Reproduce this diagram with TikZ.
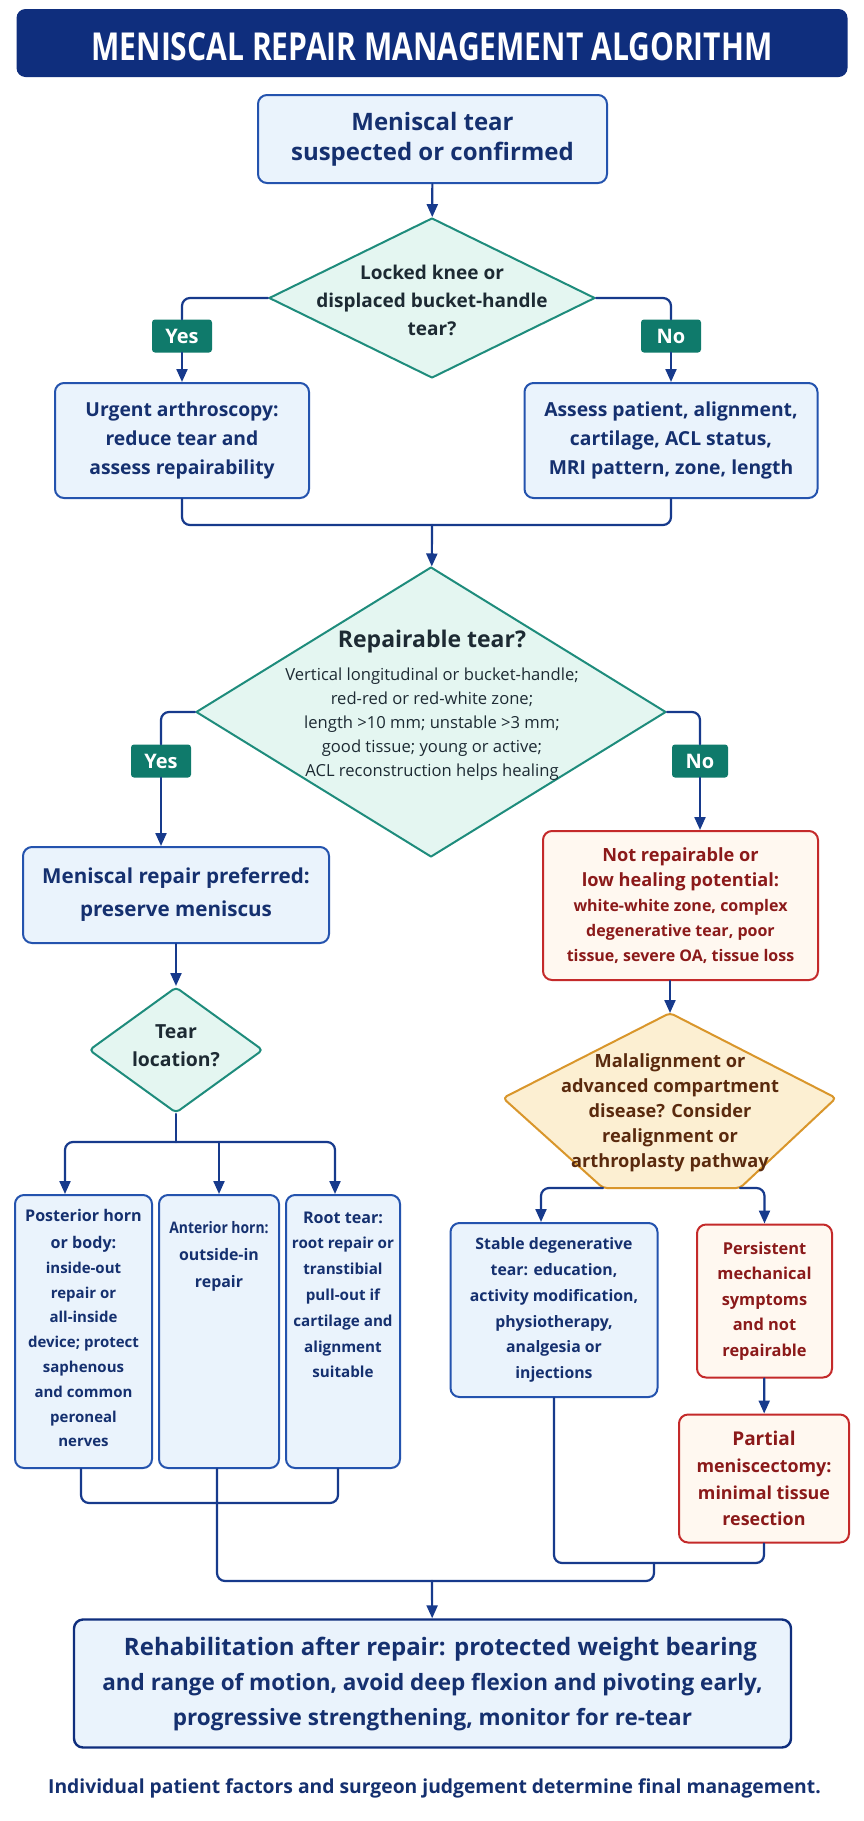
\documentclass[tikz,border=0pt]{standalone}
\usepackage{fontspec}
\usepackage{graphicx}
\usepackage{tikz}
\setmainfont{Open Sans}
\newfontfamily\titlefont{Open Sans}[FakeStretch=0.78]
\usetikzlibrary{shapes.geometric}
\usetikzlibrary{arrows.meta}
\definecolor{titlenavy}{HTML}{0F2E7D}
\definecolor{boxblue}{HTML}{2453AE}
\definecolor{boxfill}{HTML}{EAF3FC}
\definecolor{navytext}{HTML}{15306F}
\definecolor{tealline}{HTML}{1E8C7C}
\definecolor{tealfill}{HTML}{E4F6F1}
\definecolor{tealdark}{HTML}{0F7A6B}
\definecolor{slatetext}{HTML}{1D2A33}
\definecolor{redline}{HTML}{C42A2A}
\definecolor{redfill}{HTML}{FFF8F0}
\definecolor{redtext}{HTML}{8B1A1A}
\definecolor{orangeline}{HTML}{D9962B}
\definecolor{orangefill}{HTML}{FCEFD2}
\definecolor{browntext}{HTML}{5A2A0E}
\definecolor{linkblue}{HTML}{173A8C}
\newcommand{\fsz}[2]{\fontsize{#1}{#2}\selectfont}
\tikzstyle{bluebox}=[draw=boxblue,fill=boxfill,line width=2pt,rounded corners=9pt,text=navytext,align=center,inner sep=0pt]
\tikzstyle{redbox}=[draw=redline,fill=redfill,line width=2pt,rounded corners=9pt,text=redtext,align=center,inner sep=0pt]
\tikzstyle{decision}=[draw=tealline,fill=tealfill,line width=2pt,shape=diamond,inner sep=0pt]
\tikzstyle{dtext}=[text=slatetext,align=center]
\tikzstyle{yesno}=[fill=tealdark,text=white,rounded corners=3pt,minimum width=60pt,minimum height=33pt,inner sep=0pt,font=\fsz{20}{24}\bfseries]
\tikzstyle{conn}=[draw=linkblue,line width=2.2pt,rounded corners=8pt]

\begin{document}
\begin{tikzpicture}[line cap=round,line join=round,>={Triangle[length=13pt,width=11pt]},x=1pt,y=-1pt]
\useasboundingbox (0,0) rectangle (864,1821);
\fill[white] (0,0) rectangle (864,1821);
% title
\node[fill=titlenavy,rounded corners=9pt,minimum width=831pt,minimum height=68pt,text height=34pt,text depth=0pt,text=white,font=\titlefont\fsz{38.5}{40}\bfseries] (title) at (432,43) {MENISCAL REPAIR MANAGEMENT ALGORITHM};
% first question
\node[bluebox,minimum width=349pt,minimum height=88pt,font=\fsz{24}{30}\bfseries] (start) at (432.5,139) {Meniscal tear\\suspected or confirmed};
\node[decision,minimum width=326pt,minimum height=160pt] (lock) at (432,298) {};
\node[dtext,font=\fsz{19}{28}\bfseries] (locktext) at (432,300) {Locked knee or\\displaced bucket-handle\\tear?};
\node[bluebox,minimum width=254pt,minimum height=115pt,font=\fsz{19.3}{29}\bfseries] (urgent) at (182,440.5) {Urgent arthroscopy:\\reduce tear and\\assess repairability};
\node[bluebox,minimum width=293pt,minimum height=115pt,font=\fsz{19.3}{29}\bfseries] (assess) at (671,440.5) {Assess patient, alignment,\\cartilage, ACL status,\\MRI pattern, zone, length};
\node[yesno] (yes1) at (182,336) {Yes};
\node[yesno] (no1) at (671,336) {No};
\draw[conn,->] (start) -- (lock);
\draw[conn] (lock.west) -| (yes1);
\draw[conn,->] (yes1) -- (urgent);
\draw[conn] (lock.east) -| (no1);
\draw[conn,->] (no1) -- (assess);
% repairable?
\node[decision,minimum width=470pt,minimum height=290pt] (rep) at (431,712) {};
\node[dtext,font=\fsz{16.6}{24}] (reptext) at (432,705) {{\fsz{23}{28}\bfseries Repairable tear?}\\[8.5pt]
  Vertical longitudinal or bucket-handle;\\
  red-red or red-white zone;\\
  length >10 mm; unstable >3 mm;\\
  good tissue; young or active;\\
  ACL reconstruction helps healing};
\coordinate (join1) at (432,525);
\draw[conn] (urgent.south) |- (join1) -| (assess.south);
\draw[conn,->] (join1) -- (rep);
\node[yesno] (yes2) at (161,761) {Yes};
\node[yesno,minimum width=56pt] (no2) at (700,761) {No};
\node[bluebox,minimum width=306pt,minimum height=96pt,font=\fsz{20.6}{33}\bfseries] (repair) at (176,895) {Meniscal repair preferred:\\preserve meniscus};
\node[redbox,minimum width=275pt,minimum height=149pt,font=\fsz{16}{25}\bfseries] (notrep) at (680.5,905.5) {{\fsz{18.2}{25}Not repairable or}\\
  {\fsz{18.2}{25}low healing potential:}\\
  white-white zone, complex\\
  degenerative tear, poor\\
  tissue, severe OA, tissue loss};
\draw[conn] (rep.west) -| (yes2);
\draw[conn,->] (yes2) -- (yes2 |- repair.north);
\draw[conn] (rep.east) -| (no2);
\draw[conn,->] (no2) -- (no2 |- notrep.north);
% repair side
\node[decision,rounded corners=4pt,minimum width=174pt,minimum height=126pt] (loc) at (176,1050) {};
\node[dtext,font=\fsz{19.4}{28}\bfseries] (loctext) at (176,1046) {Tear\\location?};
\draw[conn,->] (repair) -- (loc);
\node[bluebox,minimum width=137pt,minimum height=273pt] (post) at (83.5,1331.5) {\parbox[c][270pt][t]{134pt}{\centering\vspace*{13pt}\fsz{15}{24.8}\bfseries {\fsz{16.1}{24.8}Posterior horn}\\[2pt]{\fsz{16.1}{24.8}or body:}\\inside-out\\repair or\\all-inside\\device; protect\\saphenous\\and common\\peroneal\\nerves}};
\node[bluebox,minimum width=120pt,minimum height=273pt] (ant) at (219,1331.5) {\parbox[c][270pt][t]{118pt}{\centering\vspace*{25pt}\fsz{15.9}{27}\bfseries \scalebox{0.875}[1]{Anterior horn:}\\outside-in\\repair}};
\node[bluebox,minimum width=114pt,minimum height=273pt] (root) at (343,1331.5) {\parbox[c][270pt][t]{112pt}{\centering\vspace*{15pt}\fsz{15.2}{25.8}\bfseries {\fsz{16.1}{25.8}Root tear:}\\root repair or\\transtibial\\pull-out if\\cartilage and\\alignment\\suitable}};
\coordinate (split) at (176,1142);
\draw[conn] (loc.south) -- (split);
\draw[conn,->] (split) -| ([xshift=-18.5pt]post.north);
\draw[conn,->] (ant.north |- split) -- (ant.north);
\draw[conn,->] (split) -| ([xshift=-8pt]root.north);
% not repairable side
\coordinate (maltop) at (670,1013);
\coordinate (malright) at (836,1098);
\coordinate (malbr) at (740,1188);
\coordinate (malbl) at (603,1188);
\coordinate (malleft) at (503,1098);
\draw[draw=orangeline,fill=orangefill,line width=2pt,rounded corners=4pt] (maltop) -- (malright) -- (malbr) -- (malbl) -- (malleft) -- cycle;
\node[text=browntext,align=center,font=\fsz{18.2}{25}\bfseries] (mal) at (670,1113) {Malalignment or\\advanced compartment\\disease? Consider\\realignment or\\arthroplasty pathway};
\draw[conn,->] ([xshift=-10.5pt]notrep.south) -- (maltop);
\node[bluebox,minimum width=207pt,minimum height=174pt,font=\fsz{15.8}{25.8}\bfseries] (stable) at (554,1310) {Stable degenerative\\tear: education,\\activity modification,\\physiotherapy,\\analgesia or\\injections};
\node[redbox,minimum width=135pt,minimum height=153pt,font=\fsz{16.4}{25.5}\bfseries] (persist) at (764.5,1301) {Persistent\\mechanical\\symptoms\\and not\\repairable};
\node[redbox,minimum width=170pt,minimum height=128pt,font=\fsz{17.9}{26.7}\bfseries] (partial) at (764,1478.5) {{\fsz{19}{26.7}Partial}\\meniscectomy:\\minimal tissue\\resection};
\draw[conn,->] (malbl) -| ([xshift=-13pt]stable.north);
\draw[conn,->] (malbr) -| (persist.north);
\draw[conn,->] (persist) -- (partial);
% back together
\node[bluebox,line width=2.4pt,draw=titlenavy,minimum width=717pt,minimum height=128pt,font=\fsz{22.5}{35}\bfseries] (rehab) at (432.5,1683.5) {{\fsz{24}{35}\hspace*{16pt}Rehabilitation after repair: protected weight bearing}\\and range of motion, avoid deep flexion and pivoting early,\\progressive strengthening, monitor for re-tear};
\coordinate (join2) at (654,1563);
\coordinate (join3) at (432,1581);
\draw[conn] ([xshift=-2.5pt]post.south) -- ++(0,34) -| ([xshift=-5pt]root.south);
\draw[conn] ([xshift=-2pt]ant.south) |- (join3);
\draw[conn] (stable.south) |- (join2) -| (partial.south);
\draw[conn] (join2) |- (join3);
\draw[conn,->] (join3) -- (rehab);
\node[text=navytext,font=\fsz{19.3}{24}\bfseries] (note) at (434.5,1788) {Individual patient factors and surgeon judgement determine final management.};
\end{tikzpicture}
\end{document}
